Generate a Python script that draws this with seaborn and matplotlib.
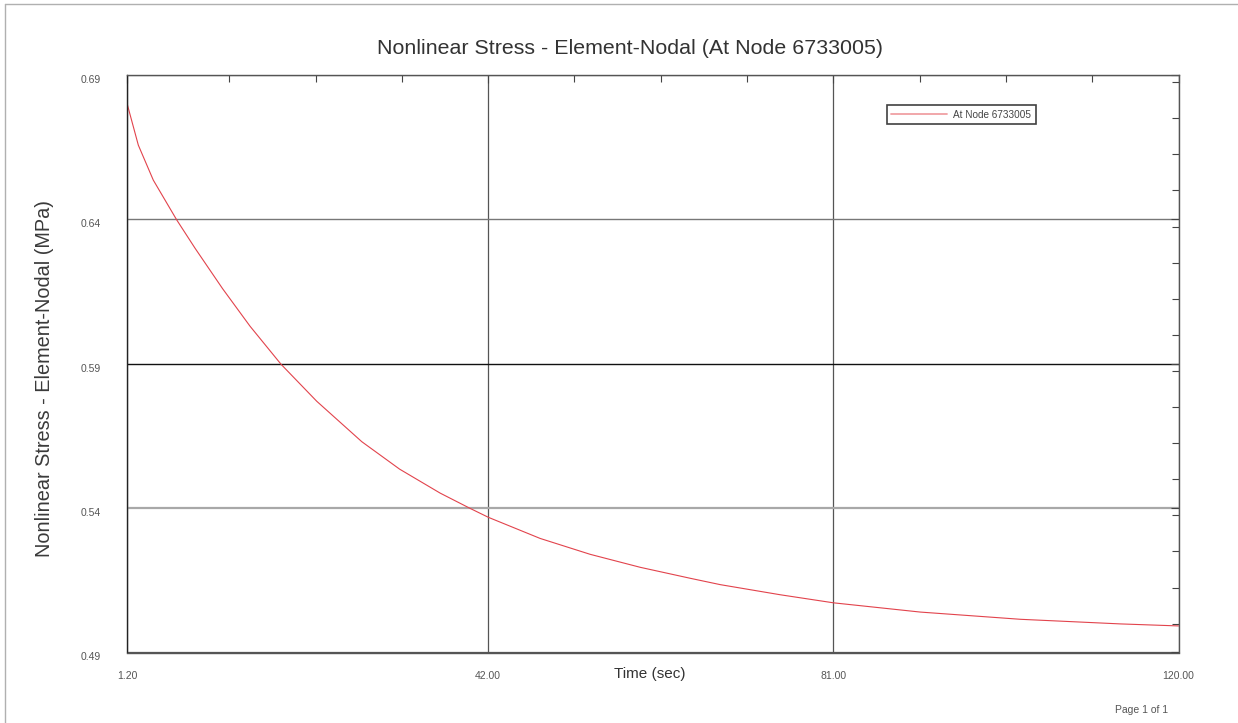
import numpy as np
import pandas as pd
import matplotlib
matplotlib.use("Agg")
import matplotlib.pyplot as plt
from matplotlib.ticker import FixedLocator, MultipleLocator
from matplotlib.lines import Line2D
from matplotlib.transforms import ScaledTranslation
import seaborn as sns

# values
time_sec = [1.2, 2.48, 4.17, 6.82, 8.89, 12.0, 15.1, 18.61, 22.64, 27.73, 32.0, 36.58,
            39.97, 42.04, 47.88, 53.53, 59.19, 64.84, 68.23, 75.0, 81.03, 90.84,
            102.14, 113.44, 120.0]
stress_mpa = [0.6802, 0.6657, 0.6536, 0.6398, 0.6300, 0.6160, 0.6030, 0.5898, 0.5770,
              0.5630, 0.5535, 0.5452, 0.5399, 0.5368, 0.5295, 0.5240, 0.5195, 0.5157,
              0.5135, 0.5100, 0.5072, 0.5040, 0.5015, 0.4999, 0.4992]

x_major = [1.2, 42.0, 81.0, 120.0]
x_major_labels = ["1.20", "42.00", "81.00", "120.00"]
x_minor = [12.75, 22.5, 32.25, 51.75, 61.5, 71.25, 90.75, 100.5, 110.25]
y_major = [0.49, 0.54, 0.59, 0.64, 0.69]
y_major_labels = ["0.49", "0.54", "0.59", "0.64", "0.69"]
series_name = "At Node 6733005"

df = pd.DataFrame({"time": time_sec, "stress": stress_mpa})

sns.set_theme(style="white")
plt.rcParams["font.family"] = ["Liberation Sans", "DejaVu Sans"]

fig = plt.figure(figsize=(12.38, 7.23), dpi=100)
ax = fig.add_axes([127 / 1238, 1 - 652.5 / 723, 1051.5 / 1238, 577.5 / 723])

sns.lineplot(data=df, x="time", y="stress", ax=ax, color="#e2434c", linewidth=0.8,
             label=series_name, legend=False)

ax.set_xlim(1.2, 120.0)
ax.set_ylim(0.49, 0.69)

ax.xaxis.set_major_locator(FixedLocator(x_major))
ax.set_xticklabels(x_major_labels)
ax.xaxis.set_minor_locator(FixedLocator(x_minor))
ax.yaxis.set_major_locator(FixedLocator(y_major))
ax.set_yticklabels(y_major_labels)
ax.yaxis.set_minor_locator(MultipleLocator(0.0125))

ax.tick_params(axis="both", which="both", direction="in", top=True, right=True,
               color="#444444", width=0.8)
ax.tick_params(axis="both", which="major", length=6, labelsize=7.5, labelcolor="#555555")
ax.tick_params(axis="both", which="minor", length=5)
ax.tick_params(axis="x", which="major", pad=13)
ax.tick_params(axis="y", which="major", pad=19)

# y tick labels sit a few pixels below their ticks in the reference
shift = ScaledTranslation(0, -4 / 100, fig.dpi_scale_trans)
for lab in ax.get_yticklabels():
    lab.set_transform(lab.get_transform() + shift)

# grid lines, each with its own shade as in the reference
ax.grid(True, which="major")
for gl in ax.xaxis.get_gridlines():
    gl.set_color("#555555")
    gl.set_linewidth(0.9)
grid_shades = {0.54: ("#a8a8a8", 1.6), 0.59: ("#111111", 1.0), 0.64: ("#777777", 1.0)}
for gl, val in zip(ax.yaxis.get_gridlines(), y_major):
    c, w = grid_shades.get(val, ("#555555", 0.9))
    gl.set_color(c)
    gl.set_linewidth(w)

for side, sp in ax.spines.items():
    sp.set_color("#555555")
    sp.set_linewidth(1.0)
ax.spines["left"].set_color("#222222")

ax.set_xlabel("Time (sec)", fontsize=11, color="#333333")
ax.xaxis.label.set_va("center")
ax.xaxis.set_label_coords(0.497, -0.037)
ax.set_ylabel("Nonlinear Stress - Element-Nodal (MPa)", fontsize=14.3, color="#3a3a3a")
ax.yaxis.label.set_va("center")
ax.yaxis.set_label_coords(-0.078, 0.475)

leg = ax.legend(handles=[Line2D([], [], color="#f0a0a4", linewidth=1.3)],
                labels=[series_name], loc="upper left", bbox_to_anchor=(0.7225, 0.948),
                fontsize=7.2, frameon=True, fancybox=False, handlelength=5.6,
                handletextpad=0.6, borderpad=0.45, borderaxespad=0)
leg.get_frame().set_edgecolor("#111111")
leg.get_frame().set_linewidth(1.2)
for t in leg.get_texts():
    t.set_color("#444444")

fig.text(630 / 1238, 1 - 48 / 723, "Nonlinear Stress - Element-Nodal (At Node 6733005)",
         ha="center", va="center", fontsize=15.4, color="#333333")
fig.text(1142 / 1238, 1 - 710 / 723, "Page 1 of 1", ha="center", va="center",
         fontsize=7.5, color="#555555")

# page border along top and left edge
fig.add_artist(Line2D([5 / 1238, 1.0], [1 - 3.5 / 723, 1 - 3.5 / 723], color="#b0b0b0", linewidth=1.0))
fig.add_artist(Line2D([5 / 1238, 5 / 1238], [0.0, 1 - 3.5 / 723], color="#b0b0b0", linewidth=1.0))

fig.savefig("out.png", dpi=100, facecolor="white")
